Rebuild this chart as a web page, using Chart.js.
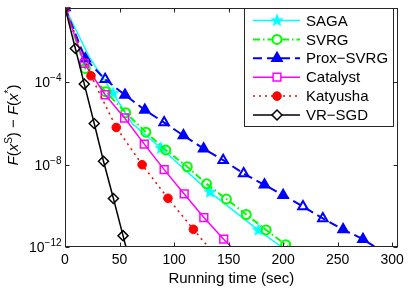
<!DOCTYPE html>
<html>
<head>
<meta charset="utf-8">
<script src="https://cdn.jsdelivr.net/npm/chart.js@4.4.0/dist/chart.umd.min.js"></script>
<style>
  html, body { margin: 0; padding: 0; background: #fff; }
</style>
</head>
<body>
<canvas id="chart" width="409" height="288"></canvas>
<script>
// --- data ---
const xTicks = [0, 50, 100, 150, 200, 250, 300];
const yTicks = [1e-4, 1e-8, 1e-12];
const yTickExp = ['\u22124', '\u22128', '\u221212'];
const xTitle = 'Running time (sec)';

const sagaX = [0, 22.3, 44.1, 61.6, 88, 132.9, 177.3, 198.6];
const sagaY = [0.437, 1.70e-3, 2.95e-5, 1e-6, 6.31e-8, 4.68e-10, 6.61e-12, 1e-12];
const sagaMarks = [0, 2, 4, 5, 6];

const svrgX = [0, 18.6, 37.3, 55.6, 74.1, 92.3, 112.1, 129.8, 148.0, 166.2, 184.4, 202.3, 205];
const svrgY = [0.437, 4.79e-4, 3.55e-5, 3.39e-6, 3.8e-7, 5.25e-8, 7.94e-9, 1.17e-9, 2.14e-10, 3.8e-11, 6.76e-12, 1.29e-12, 1e-12];

const proxX = [0, 18.6, 36.8, 55.0, 73.2, 90.9, 108.6, 127.1, 145.0, 163.8, 182.9, 200, 218.2, 236.4, 255, 273.2, 284.4];
const proxY = [0.437, 1.41e-3, 1.41e-4, 2.45e-5, 4.57e-6, 1.12e-6, 2.63e-7, 6.03e-8, 1.66e-8, 3.72e-9, 1.05e-9, 3.31e-10, 9.33e-11, 2.45e-11, 7.08e-12, 2.4e-12, 1e-12];
const proxFilled = [1, 1, 0, 1, 1, 0, 1, 1, 0, 0, 1, 1, 0, 0, 1, 1, 0];

const catX = [0, 17.7, 36.8, 54.7, 72.7, 90.9, 109.3, 127.3, 145.5, 152.5];
const catY = [0.437, 8.32e-4, 2.51e-5, 1.86e-6, 1e-7, 5.75e-9, 3.8e-10, 2.69e-11, 2.4e-12, 1e-12];

const katX = [0, 23.8, 47.0, 70.7, 94.4, 117.7, 131.5];
const katY = [0.437, 2.09e-4, 6.46e-7, 1e-8, 2.34e-10, 7.24e-12, 1e-12];

const vrX = [0, 9.5, 17.7, 26.8, 35.3, 44.4, 53.2, 55.9];
const vrY = [0.437, 4.47e-3, 8.3e-5, 1e-6, 1.48e-8, 2.29e-10, 3.55e-12, 1e-12];

const FONT = '"Liberation Sans", Arial, Helvetica, sans-serif';

// filled five-point star for SAGA
function makeStar(color, r) {
  const c = document.createElement('canvas');
  const s = Math.ceil(r * 2 + 3);
  c.width = s; c.height = s;
  const g = c.getContext('2d');
  g.beginPath();
  for (let i = 0; i < 10; i++) {
    const rr = i % 2 ? r * 0.45 : r;
    const a = -Math.PI / 2 + i * Math.PI / 5;
    g.lineTo(s / 2 + rr * Math.cos(a), s / 2 + rr * Math.sin(a));
  }
  g.closePath();
  g.fillStyle = color;
  g.strokeStyle = color;
  g.lineWidth = 1.2;
  g.fill();
  g.stroke();
  return c;
}
const starImg = makeStar('#00ffff', 5.5);

const pts = (xs, ys) => xs.map((x, i) => ({ x: x, y: ys[i] }));
const lastless = (n, r) => ctx => (ctx.dataIndex < n - 1 ? r : 0);

const datasets = [
  {
    label: 'SAGA', data: pts(sagaX, sagaY),
    borderColor: '#00ffff', borderWidth: 1.5,
    pointStyle: starImg, pointBorderColor: '#00ffff', pointBackgroundColor: '#00ffff',
    pointRadius: ctx => (sagaMarks.includes(ctx.dataIndex) ? 5 : 0), legendRadius: 5
  },
  {
    label: 'SVRG', data: pts(svrgX, svrgY),
    borderColor: '#00ff00', borderWidth: 2, borderDash: [7, 3, 1.5, 3],
    pointStyle: 'circle', pointBorderColor: '#00ff00', pointBackgroundColor: 'rgba(0,0,0,0)',
    pointBorderWidth: 2, pointRadius: lastless(svrgX.length, 4.5), legendRadius: 4.5
  },
  {
    label: 'Prox\u2212SVRG', data: pts(proxX, proxY),
    borderColor: '#0000ff', borderWidth: 2, borderDash: [9, 5],
    pointStyle: 'triangle', pointBorderColor: '#0000ff',
    pointBackgroundColor: proxFilled.map(f => (f ? '#0000ff' : 'rgba(0,0,0,0)')),
    pointBorderWidth: 2, pointRadius: lastless(proxX.length, 5.5), legendRadius: 5.5
  },
  {
    label: 'Catalyst', data: pts(catX, catY),
    borderColor: '#ff00ff', borderWidth: 1.5,
    pointStyle: 'rect', pointBorderColor: '#ff00ff', pointBackgroundColor: 'rgba(0,0,0,0)',
    pointBorderWidth: 1.5, pointRadius: lastless(catX.length, 5.5), legendRadius: 5.5
  },
  {
    label: 'Katyusha', data: pts(katX, katY),
    borderColor: '#ff0000', borderWidth: 1.5, borderDash: [2, 4],
    pointStyle: 'circle', pointBorderColor: '#ff0000', pointBackgroundColor: '#ff0000',
    pointBorderWidth: 1, pointRadius: lastless(katX.length, 4.3), legendRadius: 4.3
  },
  {
    label: 'VR\u2212SGD', data: pts(vrX, vrY),
    borderColor: '#000000', borderWidth: 1.5,
    pointStyle: 'rectRot', pointBorderColor: '#000000', pointBackgroundColor: 'rgba(0,0,0,0)',
    pointBorderWidth: 1.5, pointRadius: lastless(vrX.length, 5), legendRadius: 5
  }
];
datasets.forEach((d, i) => { d.tension = 0; d.fill = false; d.order = datasets.length - i; });

// frame, inward ticks, y labels with exponents, y title and legend
const decorations = {
  id: 'decorations',
  afterDraw(chart) {
    const ctx = chart.ctx;
    const a = chart.chartArea;
    const xs = chart.scales.x, ys = chart.scales.y;
    const L = Math.round(a.left) + 0.5, R = Math.round(a.right) - 0.5;
    const T = Math.round(a.top) + 0.5, B = Math.round(a.bottom) - 0.5;
    ctx.save();
    ctx.setLineDash([]);
    ctx.strokeStyle = '#262626';
    ctx.lineWidth = 1;
    ctx.strokeRect(L, T, R - L, B - T);
    ctx.beginPath();
    xTicks.forEach(v => {
      const px = Math.round(xs.getPixelForValue(v)) + 0.5;
      ctx.moveTo(px, B); ctx.lineTo(px, B - 4);
      ctx.moveTo(px, T); ctx.lineTo(px, T + 4);
    });
    yTicks.forEach(v => {
      const py = Math.round(ys.getPixelForValue(v)) + 0.5;
      ctx.moveTo(L, py); ctx.lineTo(L + 4, py);
      ctx.moveTo(R, py); ctx.lineTo(R - 4, py);
    });
    ctx.stroke();

    // y tick labels 10^-k
    ctx.fillStyle = '#000';
    ctx.textBaseline = 'alphabetic';
    yTicks.forEach((v, i) => {
      const py = ys.getPixelForValue(v);
      ctx.font = '10px ' + FONT;
      const ew = ctx.measureText(yTickExp[i]).width;
      ctx.font = '14px ' + FONT;
      const bw = ctx.measureText('10').width;
      const right = L - 4;
      ctx.textAlign = 'left';
      ctx.fillText('10', right - ew - bw, py + 5);
      ctx.font = '10px ' + FONT;
      ctx.fillText(yTickExp[i], right - ew, py - 1);
    });

    // y title F(x^S) − F(x^*)
    const segs = [
      ['F', 'italic 15px', 0], ['(', '15px', 0], ['x', 'italic 15px', 0], ['S', '10px', -6],
      [')', '15px', 0], [' \u2212 ', '15px', 0], ['F', 'italic 15px', 0], ['(', '15px', 0],
      ['x', 'italic 15px', 0], ['*', '10px', -6], [')', '15px', 0]
    ];
    let tw = 0;
    segs.forEach(s => { ctx.font = s[1] + ' ' + FONT; tw += ctx.measureText(s[0]).width; });
    ctx.translate(18, 125);
    ctx.rotate(-Math.PI / 2);
    let cx = -tw / 2;
    segs.forEach(s => {
      ctx.font = s[1] + ' ' + FONT;
      ctx.fillText(s[0], cx, s[2]);
      cx += ctx.measureText(s[0]).width;
    });
    ctx.restore();

    // legend
    ctx.save();
    const bx = 244.5, by = 8.5, bw2 = 149, bh = 118;
    ctx.fillStyle = '#fff';
    ctx.fillRect(bx, by, bw2, bh);
    ctx.strokeStyle = '#262626';
    ctx.lineWidth = 1;
    ctx.strokeRect(bx, by, bw2, bh);
    chart.data.datasets.forEach((d, i) => {
      const y = 20.5 + i * 18.9;
      ctx.setLineDash(d.borderDash || []);
      ctx.strokeStyle = d.borderColor;
      ctx.lineWidth = d.borderWidth;
      ctx.beginPath();
      ctx.moveTo(253, y); ctx.lineTo(300, y);
      ctx.stroke();
      ctx.setLineDash([]);
      ctx.fillStyle = d.pointBorderColor;
      ctx.strokeStyle = d.pointBorderColor;
      ctx.lineWidth = d.pointBorderWidth || 1;
      if (d.label === 'SVRG' || d.label === 'Catalyst' || d.label === 'VR\u2212SGD') ctx.fillStyle = '#fff';
      Chart.helpers.drawPoint(ctx, {
        pointStyle: d.pointStyle, rotation: 0, radius: d.legendRadius,
        borderWidth: d.pointBorderWidth || 1
      }, 277, y);
      ctx.fillStyle = '#000';
      ctx.font = '15px ' + FONT;
      ctx.textAlign = 'left';
      ctx.textBaseline = 'middle';
      ctx.fillText(d.label, 306, y + 1);
    });
    ctx.restore();
  }
};

new Chart(document.getElementById('chart'), {
  type: 'line',
  data: { datasets: datasets },
  options: {
    responsive: false,
    animation: false,
    events: [],
    layout: { padding: { top: 0, right: 8, left: 0, bottom: 0 } },
    plugins: { legend: { display: false }, tooltip: { enabled: false } },
    scales: {
      x: {
        type: 'linear', min: 0, max: 305,
        afterBuildTicks: s => { s.ticks = xTicks.map(v => ({ value: v })); },
        afterFit: s => { s.height = 41; },
        grid: { display: false, drawTicks: false },
        border: { display: false },
        ticks: { color: '#000', font: { family: FONT, size: 14 }, padding: 5, maxRotation: 0, autoSkip: false },
        title: { display: true, text: xTitle, color: '#000', font: { family: FONT, size: 15 }, padding: { top: 0, bottom: 0 } }
      },
      y: {
        type: 'logarithmic', min: 1e-12, max: 0.437,
        afterBuildTicks: s => { s.ticks = yTicks.map(v => ({ value: v })); },
        afterFit: s => { s.width = 65; },
        grid: { display: false, drawTicks: false },
        border: { display: false },
        ticks: { display: false }
      }
    }
  },
  plugins: [decorations]
});
</script>
</body>
</html>
